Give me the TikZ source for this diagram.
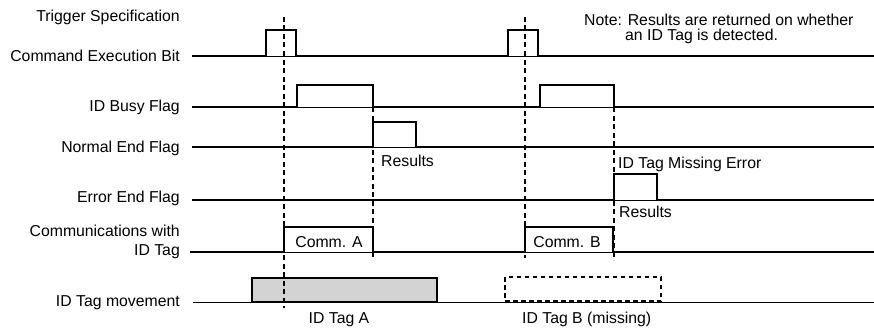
\documentclass[tikz,border=0pt]{standalone}
\usepackage{fontspec}
\setmainfont{Liberation Sans}
\definecolor{tagfill}{HTML}{D3D3D3}
\usetikzlibrary{positioning}

\begin{document}
\begin{tikzpicture}[x=1pt, y=-1pt,
  lbl/.style={font=\fontsize{15.8}{18}\selectfont, inner sep=0pt},
  sig/.style={line width=2.4pt, line join=miter},
  base/.style={line width=1pt},
  sync/.style={line width=2.2pt, dash pattern=on 5pt off 3.5pt},
  tagbox/.style={line width=2.4pt},
]
\useasboundingbox (0,0) rectangle (874,329);

% signal names
\node[lbl, anchor=base east] (trig) at (180,22)  {Trigger Specification};
\node[lbl, anchor=base east] (cmd)  at (180,61)  {Command Execution Bit};
\node[lbl, anchor=base east] (busy) at (180,111) {ID Busy Flag};
\node[lbl, anchor=base east] (nend) at (180,152) {Normal End Flag};
\node[lbl, anchor=base east] (eend) at (180,202) {Error End Flag};
\node[lbl, anchor=base east, align=right] (comm) at (180,255) {Communications with\\[1pt]ID Tag};
\node[lbl, anchor=base east] (move) at (180,306) {ID Tag movement};

% thin base lines
\draw[base] (192,56)  -- (874,56);
\draw[base] (192,107) -- (874,107);
\draw[base] (192,147) -- (874,147);
\draw[base] (192,200) -- (874,200);
\draw[base] (190,252) -- (874,252);
\draw[base] (193,302) -- (874,302);

% waveforms
\draw[sig] (192,56) -- (266,56) -- (266,30) -- (296,30) -- (296,56) -- (508,56)
  -- (508,30) -- (538,30) -- (538,56) -- (874,56);
\draw[sig] (192,107) -- (297,107) -- (297,85) -- (373,85) -- (373,107) -- (540,107)
  -- (540,85) -- (614,85) -- (614,107) -- (874,107);
\draw[sig] (192,147) -- (373,147) -- (373,122) -- (416,122) -- (416,147) -- (874,147);
\draw[sig] (192,200) -- (614,200) -- (614,174) -- (657,174) -- (657,200) -- (874,200);
\draw[sig] (190,252) -- (284,252) -- (284,227) -- (373,227) -- (373,252) -- (525,252)
  -- (525,227) -- (613,227) -- (613,252) -- (874,252);

% ID tags
\draw[tagbox, fill=tagfill] (252,278) rectangle (437,302);
\draw[tagbox, dash pattern=on 4.5pt off 3.5pt] (505,277) rectangle (661,301);

% timing marks
\draw[sync] (284,17)  -- (284,308);
\draw[sync] (525,17)  -- (525,258);
\draw[sync] (373,107) -- (373,260);
\draw[sync] (614,107) -- (614,260);

% annotations
\node[lbl, anchor=base] (commA) at (329,247) {Comm. A};
\node[lbl, anchor=base] (commB) at (567,247) {Comm. B};
\node[lbl, anchor=base west] (resA) at (381,166) {Results};
\node[lbl, anchor=base west] (miss) at (618,168) {ID Tag Missing Error};
\node[lbl, anchor=base west] (resB) at (619,217) {Results};
\node[lbl, anchor=base] (tagA) at (339,323) {ID Tag A};
\node[lbl, anchor=base west] (tagB) at (522,323) {ID Tag B (missing)};

% note
\node[lbl, anchor=base west] (note)  at (584,26) {Note: Results are returned on whether};
\node[lbl, anchor=base west] (note2) at (625,41) {an ID Tag is detected.};
\end{tikzpicture}
\end{document}
